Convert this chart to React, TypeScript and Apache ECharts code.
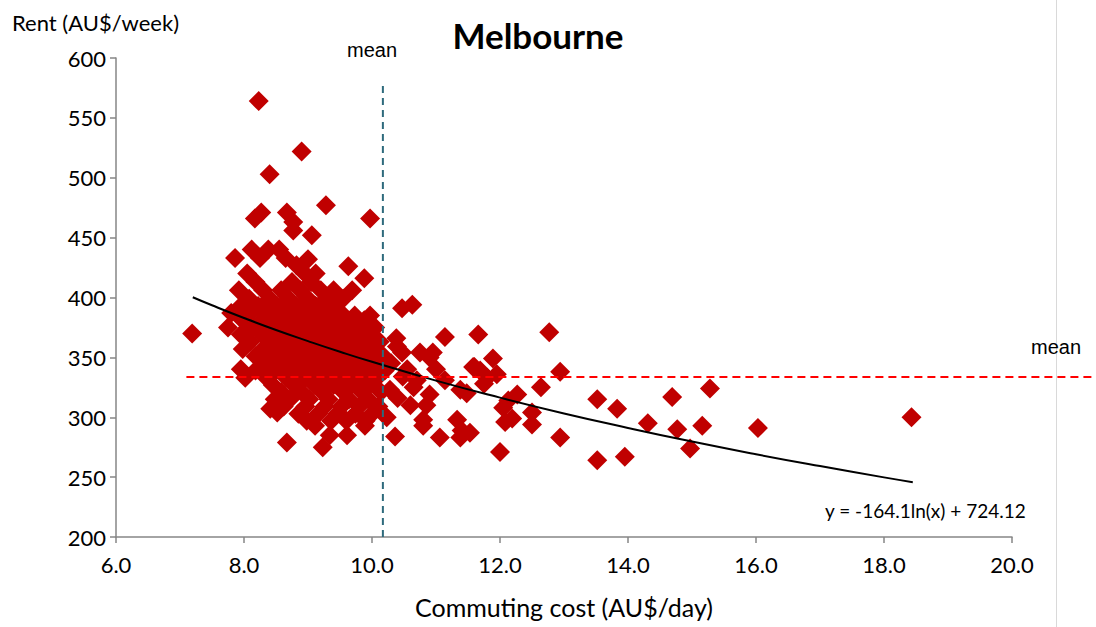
import React, { useEffect, useRef } from "react";
import * as echarts from "echarts";

// ---- data ----
const xTicks = [6, 8, 10, 12, 14, 16, 18, 20];
const yTicks = [200, 250, 300, 350, 400, 450, 500, 550, 600];

// sparse points above / around the cluster
const upperPoints: [number, number][] = [
  [8.23, 564], [8.9, 522], [8.4, 503], [9.28, 477], [9.97, 466], [8.17, 466],
  [8.27, 471], [8.67, 471], [8.77, 463], [9.06, 452], [8.77, 456], [9.63, 426],
  [9.88, 416], [9.69, 406], [9.28, 395], [9.73, 385], [9.97, 385], [7.19, 370],
];

// points right of the mean commuting cost
const rightPoints: [number, number][] = [
  [10.38, 366], [10.47, 391], [10.63, 394], [10.39, 359], [10.47, 354], [10.75, 354],
  [10.95, 354], [10.9, 350], [11.14, 367], [11.14, 331], [11.38, 323], [11.48, 320],
  [11.6, 342], [10.7, 331], [10.48, 334], [10.4, 316], [10.6, 310], [10.9, 319],
  [10.8, 298], [11.33, 298], [11.06, 283], [11.38, 283], [11.4, 289], [10.36, 284],
  [10.8, 293], [10.23, 300], [10.28, 323], [10.55, 340], [10.3, 345], [10.65, 325],
  [11.0, 340], [10.85, 310], [11.66, 369], [12.77, 371], [11.89, 349], [11.58, 342],
  [11.69, 339], [11.8, 333], [11.95, 336], [11.75, 328], [12.94, 338], [12.64, 325],
  [12.27, 319], [12.13, 314], [12.05, 308], [12.19, 299], [12.08, 296], [12.5, 304],
  [12.5, 294], [11.53, 287], [12.94, 283], [12.0, 271], [13.52, 315], [13.83, 307],
  [14.31, 295], [14.69, 317], [14.77, 290], [15.16, 293], [14.97, 274], [15.28, 324],
  [16.03, 291], [13.52, 264], [13.95, 267], [18.43, 300],
];

// lower edge of the cluster
const lowerPoints: [number, number][] = [
  [8.67, 279], [9.23, 275], [9.34, 285], [9.61, 285], [9.89, 293], [9.11, 293],
  [8.41, 307], [8.52, 304], [7.95, 340], [8.02, 333],
];

// dense cluster (8–10 AU$/day)
const clusterPoints: [number, number][] = [
  [8.12, 440], [8.38, 440], [8.55, 440],
  [7.86, 433], [8.25, 433], [8.65, 433],
  [8.82, 427], [9.0, 432],
  [8.05, 420], [8.95, 420], [9.12, 420],
  [8.18, 413], [8.75, 413], [9.05, 413],
  [7.92, 406], [8.3, 406], [8.58, 406], [8.88, 406], [9.2, 406], [9.4, 406],
  [8.08, 399], [8.4, 399], [8.7, 399], [9.0, 399], [9.28, 399], [9.55, 399],
  [7.95, 393], [8.22, 393], [8.52, 393], [8.82, 393], [9.12, 393], [9.42, 393],
  [7.8, 387], [8.1, 387], [8.38, 387], [8.65, 387], [8.95, 387], [9.25, 387], [9.52, 387],
  [7.98, 381], [8.28, 381], [8.55, 381], [8.82, 381], [9.1, 381], [9.38, 381], [9.62, 381], [9.88, 381],
  [7.75, 375], [8.12, 375], [8.42, 375], [8.7, 375], [8.98, 375], [9.25, 375], [9.5, 375], [9.78, 375], [10.05, 375],
  [7.95, 369], [8.28, 369], [8.58, 369], [8.86, 369], [9.14, 369], [9.42, 369], [9.68, 369], [9.95, 369],
  [8.1, 363], [8.45, 363], [8.74, 363], [9.02, 363], [9.3, 363], [9.58, 363], [9.85, 363], [10.12, 363],
  [7.98, 357], [8.3, 357], [8.6, 357], [8.9, 357], [9.18, 357], [9.46, 357], [9.74, 357], [10.02, 357],
  [8.18, 351], [8.46, 351], [8.76, 351], [9.05, 351], [9.34, 351], [9.62, 351], [9.9, 351], [10.18, 351],
  [8.35, 345], [8.62, 345], [8.92, 345], [9.2, 345], [9.48, 345], [9.78, 345], [10.06, 345],
  [8.18, 339], [8.5, 339], [8.8, 339], [9.08, 339], [9.36, 339], [9.64, 339], [9.92, 339], [10.2, 339],
  [8.35, 333], [8.66, 333], [8.96, 333], [9.24, 333], [9.52, 333], [9.8, 333], [10.08, 333],
  [8.45, 327], [8.78, 327], [9.1, 327], [9.4, 327], [9.68, 327], [9.96, 327],
  [8.58, 321], [8.9, 321], [9.22, 321], [9.55, 321], [9.84, 321], [10.14, 321],
  [8.48, 315], [8.72, 315], [9.02, 315], [9.32, 315], [9.64, 315], [9.94, 315],
  [8.62, 309], [8.96, 309], [9.26, 309], [9.52, 309], [9.8, 309], [10.1, 309],
  [8.85, 303], [9.16, 303], [9.46, 303], [9.74, 303], [10.0, 303],
  [8.98, 297], [9.36, 297], [9.6, 297], [9.9, 297],
];

// logarithmic trend line y = -164.1 ln(x) + 724.12, values read at these x
const trendX = [7.2, 7.5, 8, 8.5, 9, 9.5, 10, 11, 12, 13, 14, 15, 16, 17, 18, 18.45];
const trendY = [400.2, 393.5, 382.9, 372.9, 363.6, 354.7, 346.3, 330.6, 316.4, 303.2, 291.1, 279.7, 269.1, 259.2, 249.8, 245.8];

const meanCost = 10.17;
const meanRent = 333.6;
const meanCostLineTop = 577.5;
const meanRentLineStart = 7.1;

const LATO = "Lato, 'Noto Sans', sans-serif";
const ARIAL = "'Liberation Sans', Arial, sans-serif";

// plot geometry
const GRID_LEFT = 116;
const GRID_RIGHT = 84;
const GRID_TOP = 58;
const GRID_BOTTOM = 90;
const WIDTH = 1096;
const HEIGHT = 627;

export default function App() {
  const ref = useRef<HTMLDivElement>(null);

  useEffect(() => {
    document.body.style.margin = "0";
    if (!ref.current) return;
    const chart = echarts.init(ref.current, null, { renderer: "svg" });

    const scatterData = [...upperPoints, ...clusterPoints, ...lowerPoints, ...rightPoints];
    const trendData = trendX.map((x, i) => [x, trendY[i]]);

    // a hidden overlay grid with the same scale that reaches the right edge of
    // the page, so the horizontal mean line can run past the x-axis end
    const xMin = xTicks[0];
    const xMax = xTicks[xTicks.length - 1];
    const pxPerUnit = (WIDTH - GRID_LEFT - GRID_RIGHT) / (xMax - xMin);
    const overlayMax = xMin + (WIDTH - GRID_LEFT) / pxPerUnit;

    chart.setOption({
      animation: false,
      backgroundColor: "#ffffff",
      grid: [
        { left: GRID_LEFT, right: GRID_RIGHT, top: GRID_TOP, bottom: GRID_BOTTOM, containLabel: false },
        { left: GRID_LEFT, right: 0, top: GRID_TOP, bottom: GRID_BOTTOM, containLabel: false },
      ],
      xAxis: [
        {
          type: "value",
          gridIndex: 0,
          min: xMin,
          max: xMax,
          interval: 2,
          name: "Commuting cost (AU$/day)",
          nameLocation: "middle",
          nameGap: 57,
          nameTextStyle: { fontFamily: LATO, fontSize: 25, color: "#000" },
          axisLine: { show: true, lineStyle: { color: "#868686", width: 1.5 } },
          axisTick: { show: true, length: 6, lineStyle: { color: "#868686", width: 1.5 } },
          axisLabel: {
            fontFamily: LATO,
            fontSize: 22,
            color: "#000",
            margin: 16,
            formatter: (v: number) => v.toFixed(1),
          },
          splitLine: { show: false },
        },
        {
          type: "value",
          gridIndex: 1,
          min: xMin,
          max: overlayMax,
          show: false,
        },
      ],
      yAxis: [
        {
          type: "value",
          gridIndex: 0,
          min: yTicks[0],
          max: yTicks[yTicks.length - 1],
          interval: 50,
          axisLine: { show: true, lineStyle: { color: "#868686", width: 1.5 } },
          axisTick: { show: true, length: 6, lineStyle: { color: "#868686", width: 1.5 } },
          axisLabel: { fontFamily: LATO, fontSize: 22, color: "#000", margin: 10 },
          splitLine: { show: false },
        },
        {
          type: "value",
          gridIndex: 1,
          min: yTicks[0],
          max: yTicks[yTicks.length - 1],
          show: false,
        },
      ],
      series: [
        {
          type: "scatter",
          xAxisIndex: 0,
          yAxisIndex: 0,
          symbol: "diamond",
          symbolSize: 20,
          itemStyle: { color: "#C00000", opacity: 1 },
          data: scatterData,
          z: 2,
        },
        {
          type: "line",
          xAxisIndex: 0,
          yAxisIndex: 0,
          data: trendData,
          smooth: true,
          symbol: "none",
          lineStyle: { color: "#000000", width: 2 },
          z: 5,
        },
        {
          type: "line",
          xAxisIndex: 0,
          yAxisIndex: 0,
          data: [
            [meanCost, yTicks[0]],
            [meanCost, meanCostLineTop],
          ],
          symbol: "none",
          lineStyle: { color: "#2E6A7C", width: 2, type: [7, 5] },
          z: 6,
        },
        {
          type: "line",
          xAxisIndex: 1,
          yAxisIndex: 1,
          data: [
            [meanRentLineStart, meanRent],
            [overlayMax, meanRent],
          ],
          symbol: "none",
          lineStyle: { color: "#FF0000", width: 2, type: [8, 5] },
          z: 6,
        },
      ],
      graphic: [
        {
          type: "line",
          shape: { x1: 1056.5, y1: 0, x2: 1056.5, y2: HEIGHT },
          style: { stroke: "#D9D9D9", lineWidth: 1 },
          silent: true,
        },
        {
          type: "text",
          x: 538,
          y: 35,
          style: {
            text: "Melbourne",
            fontFamily: LATO,
            fontWeight: "bold",
            fontSize: 35,
            fill: "#000",
            align: "center",
            verticalAlign: "middle",
          },
        },
        {
          type: "text",
          x: 12,
          y: 22,
          style: {
            text: "Rent (AU$/week)",
            fontFamily: LATO,
            fontSize: 22,
            fill: "#000",
            align: "left",
            verticalAlign: "middle",
          },
        },
        {
          type: "text",
          x: 372,
          y: 50,
          style: {
            text: "mean",
            fontFamily: ARIAL,
            fontSize: 20,
            fill: "#000",
            align: "center",
            verticalAlign: "middle",
          },
        },
        {
          type: "text",
          x: 1056,
          y: 347,
          style: {
            text: "mean",
            fontFamily: ARIAL,
            fontSize: 20,
            fill: "#000",
            align: "center",
            verticalAlign: "middle",
          },
        },
        {
          type: "text",
          x: 825,
          y: 510,
          style: {
            text: "y = -164.1ln(x) + 724.12",
            fontFamily: LATO,
            fontSize: 19,
            fill: "#000",
            align: "left",
            verticalAlign: "middle",
          },
        },
      ],
    });

    return () => {
      chart.dispose();
    };
  }, []);

  return <div ref={ref} style={{ width: WIDTH, height: HEIGHT }} />;
}
